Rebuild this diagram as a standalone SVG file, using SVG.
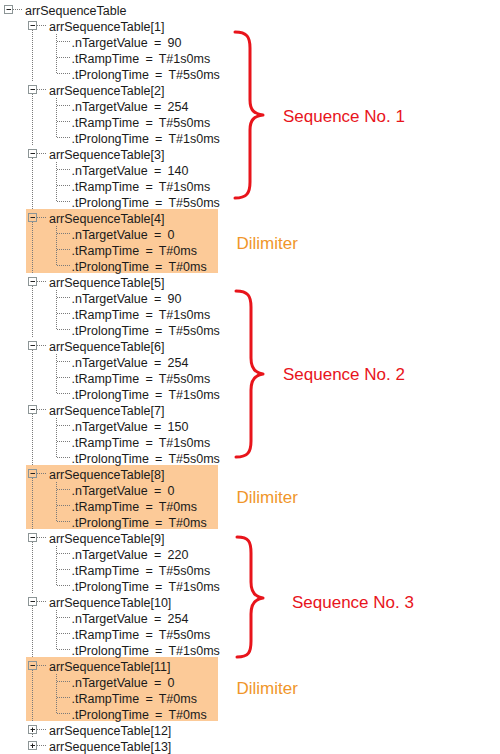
<svg xmlns="http://www.w3.org/2000/svg" width="500" height="754" viewBox="0 0 500 754">
<style>
.t{font-family:"Liberation Sans",Arial,sans-serif;font-size:12.5px;fill:#1a1a1a}
.v{word-spacing:2.8px}
.d{stroke:#7a7a7a;stroke-width:1;stroke-dasharray:1 1;fill:none}
.bx{fill:none;stroke:#8c9596;stroke-width:1}
.sg{stroke:#222;stroke-width:1}
.hl{fill:#FCCA98}
.br{fill:none;stroke:#E8141B;stroke-width:3;stroke-linecap:round;stroke-linejoin:round}
.seq{font-family:"Liberation Sans",Arial,sans-serif;font-size:17px;fill:#E8141B}
.dl{font-family:"Liberation Sans",Arial,sans-serif;font-size:17px;fill:#F0962A}
</style>
<rect width="500" height="754" fill="#fff"/>
<g id="highlights">
<rect class="hl" x="26" y="209" width="192" height="64"/>
<rect class="hl" x="26" y="465" width="192" height="64"/>
<rect class="hl" x="26" y="657" width="192" height="64"/>
</g>
<g id="connectors">
<path class="d" d="M13 9.5H23"/>
<path class="d" d="M32.5 30V81M32.5 94V145M32.5 158V209M32.5 222V273M32.5 286V337M32.5 350V401M32.5 414V465M32.5 478V529M32.5 542V593M32.5 606V657M32.5 670V721M32.5 734V737"/>
<path class="d" d="M37 25.5H47M37 89.5H47M37 153.5H47M37 217.5H47M37 281.5H47M37 345.5H47M37 409.5H47M37 473.5H47M37 537.5H47M37 601.5H47M37 665.5H47M37 729.5H47M37 745.5H47"/>
<path class="d" d="M56.5 34V73.5M56.5 98V137.5M56.5 162V201.5M56.5 226V265.5M56.5 290V329.5M56.5 354V393.5M56.5 418V457.5M56.5 482V521.5M56.5 546V585.5M56.5 610V649.5M56.5 674V713.5"/>
<path class="d" d="M57 41.5H70M57 57.5H70M57 73.5H70M57 105.5H70M57 121.5H70M57 137.5H70M57 169.5H70M57 185.5H70M57 201.5H70M57 233.5H70M57 249.5H70M57 265.5H70M57 297.5H70M57 313.5H70M57 329.5H70M57 361.5H70M57 377.5H70M57 393.5H70M57 425.5H70M57 441.5H70M57 457.5H70M57 489.5H70M57 505.5H70M57 521.5H70M57 553.5H70M57 569.5H70M57 585.5H70M57 617.5H70M57 633.5H70M57 649.5H70M57 681.5H70M57 697.5H70M57 713.5H70"/>
</g>
<g id="root"><rect class="bx" x="4.5" y="5.5" width="8" height="8"/><path class="sg" d="M6.5 9.5H11"/><text class="t" x="25" y="14.5">arrSequenceTable</text></g>
<g id="n1"><rect class="bx" x="28.5" y="21.5" width="8" height="8"/><path class="sg" d="M30.5 25.5H35"/><text class="t" x="49" y="30.5">arrSequenceTable[1]</text>
<text class="t v" x="71.5" y="46.5">.nTargetValue = 90</text><text class="t v" x="71.5" y="62.5">.tRampTime = T#1s0ms</text><text class="t v" x="71.5" y="78.5">.tProlongTime = T#5s0ms</text></g>
<g id="n2"><rect class="bx" x="28.5" y="85.5" width="8" height="8"/><path class="sg" d="M30.5 89.5H35"/><text class="t" x="49" y="94.5">arrSequenceTable[2]</text>
<text class="t v" x="71.5" y="110.5">.nTargetValue = 254</text><text class="t v" x="71.5" y="126.5">.tRampTime = T#5s0ms</text><text class="t v" x="71.5" y="142.5">.tProlongTime = T#1s0ms</text></g>
<g id="n3"><rect class="bx" x="28.5" y="149.5" width="8" height="8"/><path class="sg" d="M30.5 153.5H35"/><text class="t" x="49" y="158.5">arrSequenceTable[3]</text>
<text class="t v" x="71.5" y="174.5">.nTargetValue = 140</text><text class="t v" x="71.5" y="190.5">.tRampTime = T#1s0ms</text><text class="t v" x="71.5" y="206.5">.tProlongTime = T#5s0ms</text></g>
<g id="n4"><rect class="bx" x="28.5" y="213.5" width="8" height="8"/><path class="sg" d="M30.5 217.5H35"/><text class="t" x="49" y="222.5">arrSequenceTable[4]</text>
<text class="t v" x="71.5" y="238.5">.nTargetValue = 0</text><text class="t v" x="71.5" y="254.5">.tRampTime = T#0ms</text><text class="t v" x="71.5" y="270.5">.tProlongTime = T#0ms</text></g>
<g id="n5"><rect class="bx" x="28.5" y="277.5" width="8" height="8"/><path class="sg" d="M30.5 281.5H35"/><text class="t" x="49" y="286.5">arrSequenceTable[5]</text>
<text class="t v" x="71.5" y="302.5">.nTargetValue = 90</text><text class="t v" x="71.5" y="318.5">.tRampTime = T#1s0ms</text><text class="t v" x="71.5" y="334.5">.tProlongTime = T#5s0ms</text></g>
<g id="n6"><rect class="bx" x="28.5" y="341.5" width="8" height="8"/><path class="sg" d="M30.5 345.5H35"/><text class="t" x="49" y="350.5">arrSequenceTable[6]</text>
<text class="t v" x="71.5" y="366.5">.nTargetValue = 254</text><text class="t v" x="71.5" y="382.5">.tRampTime = T#5s0ms</text><text class="t v" x="71.5" y="398.5">.tProlongTime = T#1s0ms</text></g>
<g id="n7"><rect class="bx" x="28.5" y="405.5" width="8" height="8"/><path class="sg" d="M30.5 409.5H35"/><text class="t" x="49" y="414.5">arrSequenceTable[7]</text>
<text class="t v" x="71.5" y="430.5">.nTargetValue = 150</text><text class="t v" x="71.5" y="446.5">.tRampTime = T#1s0ms</text><text class="t v" x="71.5" y="462.5">.tProlongTime = T#5s0ms</text></g>
<g id="n8"><rect class="bx" x="28.5" y="469.5" width="8" height="8"/><path class="sg" d="M30.5 473.5H35"/><text class="t" x="49" y="478.5">arrSequenceTable[8]</text>
<text class="t v" x="71.5" y="494.5">.nTargetValue = 0</text><text class="t v" x="71.5" y="510.5">.tRampTime = T#0ms</text><text class="t v" x="71.5" y="526.5">.tProlongTime = T#0ms</text></g>
<g id="n9"><rect class="bx" x="28.5" y="533.5" width="8" height="8"/><path class="sg" d="M30.5 537.5H35"/><text class="t" x="49" y="542.5">arrSequenceTable[9]</text>
<text class="t v" x="71.5" y="558.5">.nTargetValue = 220</text><text class="t v" x="71.5" y="574.5">.tRampTime = T#5s0ms</text><text class="t v" x="71.5" y="590.5">.tProlongTime = T#1s0ms</text></g>
<g id="n10"><rect class="bx" x="28.5" y="597.5" width="8" height="8"/><path class="sg" d="M30.5 601.5H35"/><text class="t" x="49" y="606.5">arrSequenceTable[10]</text>
<text class="t v" x="71.5" y="622.5">.nTargetValue = 254</text><text class="t v" x="71.5" y="638.5">.tRampTime = T#5s0ms</text><text class="t v" x="71.5" y="654.5">.tProlongTime = T#1s0ms</text></g>
<g id="n11"><rect class="bx" x="28.5" y="661.5" width="8" height="8"/><path class="sg" d="M30.5 665.5H35"/><text class="t" x="49" y="670.5">arrSequenceTable[11]</text>
<text class="t v" x="71.5" y="686.5">.nTargetValue = 0</text><text class="t v" x="71.5" y="702.5">.tRampTime = T#0ms</text><text class="t v" x="71.5" y="718.5">.tProlongTime = T#0ms</text></g>
<g id="n12"><rect class="bx" x="28.5" y="725.5" width="8" height="8"/><path class="sg" d="M30.5 729.5H35M32.5 727.5V732"/><text class="t" x="49" y="734.5">arrSequenceTable[12]</text></g>
<g id="n13"><rect class="bx" x="28.5" y="741.5" width="8" height="8"/><path class="sg" d="M30.5 745.5H35M32.5 743.5V748"/><text class="t" x="49" y="750.5">arrSequenceTable[13]</text></g>
<g id="seq1"><path class="br" d="M235,32 C247,32 250,37 250,48 L250,100 C250,110 254,114 263,115 C254,116 250,120 250,130 L250,182 C250,193 247,198 235,198"/><text class="seq" x="283" y="121.5">Sequence No. 1</text></g>
<g id="seq2"><path class="br" d="M236,291 C248,291 251,296 251,307 L251,358 C251,368 255,373 263,374 C255,375 251,380 251,390 L251,441 C251,452 248,457 236,457"/><text class="seq" x="283" y="379.5">Sequence No. 2</text></g>
<g id="seq3"><path class="br" d="M237,537 C249,537 251,542 251,553 L251,582 C251,592 255,597 263,598 C255,599 251,604 251,614 L251,641 C251,652 249,657 237,657"/><text class="seq" x="292" y="607.5">Sequence No. 3</text></g>
<g id="dlm1"><text class="dl" x="236.5" y="248.5">Dilimiter</text></g>
<g id="dlm2"><text class="dl" x="236.5" y="502.5">Dilimiter</text></g>
<g id="dlm3"><text class="dl" x="236.5" y="693.5">Dilimiter</text></g>
</svg>
